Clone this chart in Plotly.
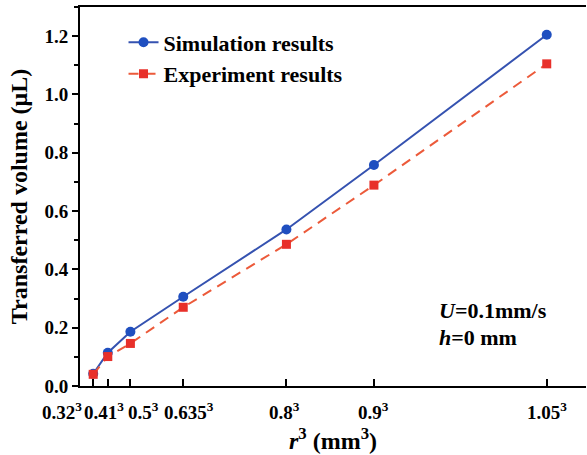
import plotly.graph_objects as go

r_values = [0.32, 0.41, 0.5, 0.635, 0.8, 0.9, 1.05]
tick_labels = ["0.32<sup>3</sup>", "0.41<sup>3</sup>", "0.5<sup>3</sup>", "0.635<sup>3</sup>",
               "0.8<sup>3</sup>", "0.9<sup>3</sup>", "1.05<sup>3</sup>"]
simulation = [0.042, 0.114, 0.186, 0.306, 0.537, 0.758, 1.205]
experiment = [0.040, 0.101, 0.146, 0.270, 0.486, 0.689, 1.105]
y_ticks = [0.0, 0.2, 0.4, 0.6, 0.8, 1.0, 1.2]

# horizontal nudges for the crowded tick labels (style, in px)
label_shift = [-31, -4, 13, 6, -2, 0, 0]

x_vals = [r ** 3 for r in r_values]
FONT = "Liberation Serif"

fig = go.Figure()
fig.add_trace(go.Scatter(
    x=x_vals, y=simulation, mode="lines+markers", name="<b>Simulation results</b>",
    line=dict(color="#3552b0", width=2),
    marker=dict(symbol="circle", size=10, color="#1f4fc0"),
))
fig.add_trace(go.Scatter(
    x=x_vals, y=experiment, mode="lines+markers", name="<b>Experiment results</b>",
    line=dict(color="#ec5a3a", width=2, dash="10px,7px"),
    marker=dict(symbol="square", size=9, color="#e8302a"),
))

fig.update_layout(
    width=587, height=455,
    margin=dict(l=80, r=1, t=7, b=69),
    paper_bgcolor="white", plot_bgcolor="white",
    font=dict(family=FONT, color="black", size=15),
    showlegend=True,
    legend=dict(x=0.086, y=0.962, xanchor="left", yanchor="top",
                font=dict(family=FONT, size=22, color="black"),
                bgcolor="rgba(0,0,0,0)", tracegroupgap=0),
    xaxis=dict(
        range=[0, 1.255], tickvals=x_vals, showticklabels=False,
        ticks="inside", ticklen=7, tickwidth=2, tickcolor="black",
        showline=True, linecolor="black", linewidth=2, mirror=True,
        showgrid=False, zeroline=False, automargin=False,
    ),
    yaxis=dict(
        range=[0, 1.3], tickvals=y_ticks,
        ticktext=[f"<b>{v:.1f}</b>" for v in y_ticks],
        ticks="outside", ticklen=6, tickwidth=2, tickcolor="black",
        minor=dict(dtick=0.1, ticks="outside", ticklen=4, tickwidth=1.5, tickcolor="black"),
        showline=True, linecolor="black", linewidth=2,
        showgrid=False, zeroline=False, automargin=False,
        tickfont=dict(family=FONT, size=19, color="black"),
        title=dict(text="<b>Transferred volume (μL)</b>",
                   font=dict(family=FONT, size=24, color="black"), standoff=10),
    ),
)

for xv, lab, sh in zip(x_vals, tick_labels, label_shift):
    fig.add_annotation(xref="x", yref="paper", x=xv, y=0, xanchor="center", yanchor="middle",
                       xshift=sh, yshift=-25, text=f"<b>{lab}</b>", showarrow=False,
                       font=dict(family=FONT, size=19, color="black"))

fig.add_annotation(xref="paper", yref="paper", x=0.5, y=0, xanchor="center", yanchor="middle",
                   yshift=-53, text="<b><i>r</i><sup>3</sup> (mm<sup>3</sup>)</b>", showarrow=False,
                   font=dict(family=FONT, size=24, color="black"))

fig.add_annotation(xref="paper", yref="paper", x=0.706, y=0.198, xanchor="left", yanchor="middle",
                   text="<b><i>U</i>=0.1mm/s</b>", showarrow=False,
                   font=dict(family=FONT, size=22, color="black"))
fig.add_annotation(xref="paper", yref="paper", x=0.706, y=0.129, xanchor="left", yanchor="middle",
                   text="<b><i>h</i>=0 mm</b>", showarrow=False,
                   font=dict(family=FONT, size=22, color="black"))

fig.write_html("out.html", config={"displayModeBar": False},
               post_script="document.body.style.margin='0';document.body.style.overflow='hidden';")
